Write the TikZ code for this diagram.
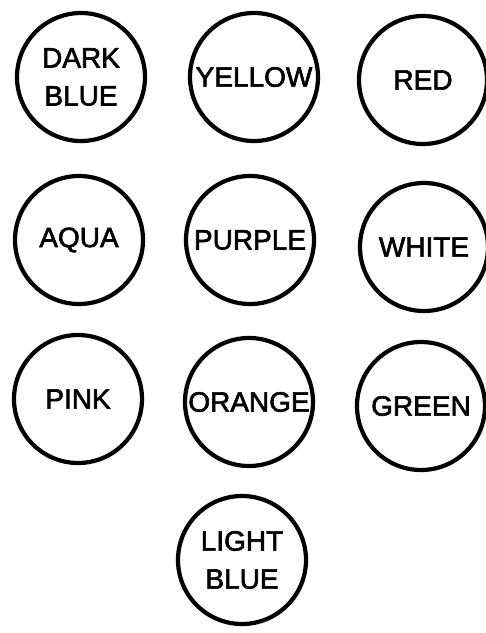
\documentclass[tikz,border=0pt]{standalone}
\usepackage{fontspec}
\setmainfont{Liberation Sans}
\newfontfamily\lampfont{Liberation Sans}[RawFeature={embolden=2.2}]
\begin{document}
\begin{tikzpicture}[x=1pt, y=1pt,
    lamp/.style={draw, circle, line width=4.2pt, minimum size=128pt,
                 inner sep=0pt, align=center,
                 font=\lampfont\fontsize{28}{38}\selectfont}]
    \useasboundingbox (0,0) rectangle (486,-633);

    % top row
    \node[lamp] (darkblue) at (81,-77)  {DARK\\BLUE};
    \node[lamp] (yellow)   at (254,-77) {YELLOW};
    \node[lamp] (red)      at (423,-80) {RED};

    % middle row
    \node[lamp] (aqua)     at (79,-240)  {AQUA};
    \node[lamp] (purple)   at (250,-240) {PURPLE};
    \node[lamp] (white)    at (424,-247) {WHITE};

    % bottom row
    \node[lamp] (pink)     at (78,-399)  {PINK};
    \node[lamp] (orange)   at (249,-402) {ORANGE};
    \node[lamp] (green)    at (421,-406) {GREEN};

    \node[lamp] (lightblue) at (242,-560) {LIGHT\\BLUE};
\end{tikzpicture}
\end{document}
